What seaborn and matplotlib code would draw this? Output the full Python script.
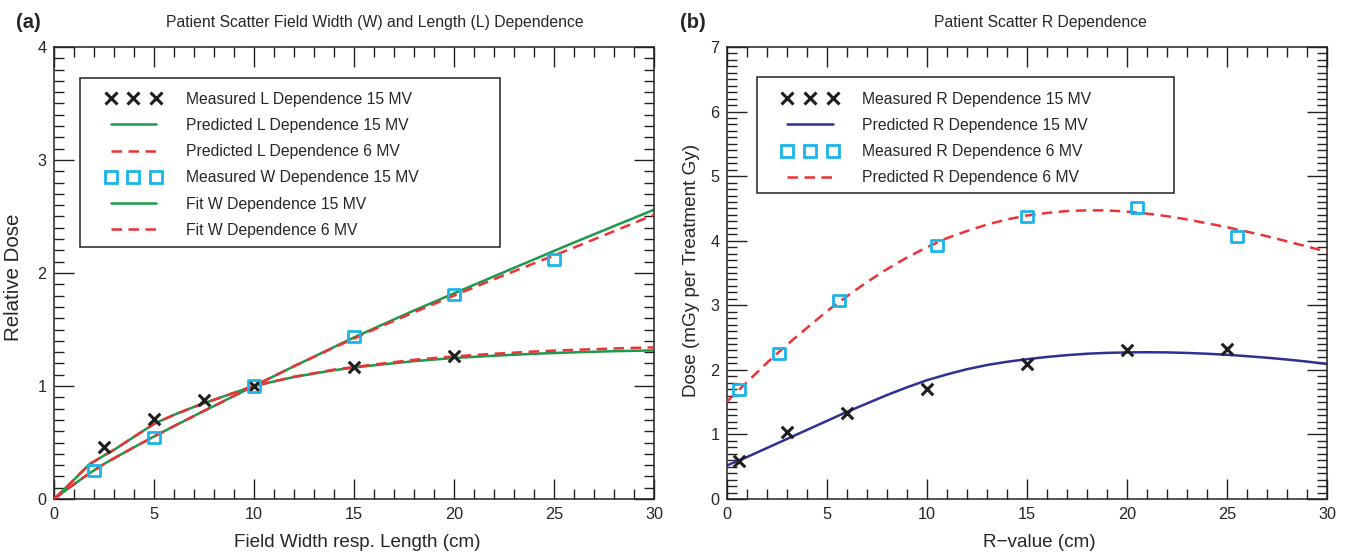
import matplotlib
matplotlib.use("Agg")
import matplotlib.pyplot as plt
from matplotlib.lines import Line2D
from matplotlib.legend_handler import HandlerLine2D
from matplotlib.patches import Rectangle
from matplotlib.ticker import MultipleLocator
import seaborn as sns

# ---------------- panel (a): field width / length dependence ----------------
L_meas_x = [2.5, 5, 7.5, 10, 15, 20]
L_meas_15 = [0.46, 0.71, 0.875, 1.0, 1.17, 1.265]

W_meas_x = [2, 5, 10, 15, 20, 25]
W_meas_15 = [0.25, 0.545, 1.0, 1.44, 1.81, 2.12]

a_curve_x = [0, 1, 1.75, 2.5, 3, 4, 5, 6, 7, 7.5, 8, 9, 10,
             12, 14, 15, 16, 18, 20, 22, 24, 25, 26, 28, 30]
L_pred_15 = [0, 0.17, 0.305, 0.385, 0.435, 0.55, 0.665, 0.745, 0.815, 0.848, 0.878, 0.94, 1.0,
             1.08, 1.14, 1.163, 1.183, 1.22, 1.248, 1.268, 1.285, 1.292, 1.298, 1.308, 1.315]
L_pred_6 = [0, 0.17, 0.305, 0.385, 0.435, 0.55, 0.665, 0.745, 0.815, 0.848, 0.878, 0.94, 1.0,
            1.082, 1.145, 1.168, 1.19, 1.232, 1.262, 1.285, 1.305, 1.313, 1.32, 1.332, 1.342]
W_fit_15 = [0, 0.13, 0.225, 0.31, 0.36, 0.458, 0.553, 0.645, 0.735, 0.78, 0.823, 0.912, 1.0,
            1.175, 1.345, 1.43, 1.51, 1.668, 1.82, 1.97, 2.12, 2.195, 2.27, 2.415, 2.56]
W_fit_6 = [0, 0.13, 0.225, 0.31, 0.36, 0.458, 0.553, 0.645, 0.735, 0.78, 0.823, 0.912, 1.0,
           1.175, 1.34, 1.42, 1.5, 1.652, 1.80, 1.945, 2.085, 2.155, 2.225, 2.37, 2.515]

# ---------------- panel (b): R dependence ----------------
R_meas_x_15 = [0.6, 3, 6, 10, 15, 20, 25]
R_meas_15 = [0.59, 1.03, 1.33, 1.71, 2.09, 2.30, 2.32]
R_meas_x_6 = [0.6, 2.6, 5.6, 10.5, 15, 20.5, 25.5]
R_meas_6 = [1.69, 2.26, 3.07, 3.92, 4.38, 4.52, 4.07]

b_curve_x = list(range(0, 31))
R_pred_15 = [0.52, 0.65, 0.79, 0.93, 1.07, 1.21, 1.35, 1.48, 1.61, 1.73, 1.84,
             1.93, 2.01, 2.075, 2.125, 2.165, 2.20, 2.228, 2.25, 2.263, 2.27,
             2.273, 2.27, 2.262, 2.25, 2.233, 2.212, 2.188, 2.16, 2.128, 2.092]
R_pred_6 = [1.51, 1.81, 2.11, 2.39, 2.65, 2.91, 3.14, 3.36, 3.56, 3.74, 3.90,
            4.04, 4.15, 4.25, 4.33, 4.39, 4.43, 4.46, 4.47, 4.47, 4.45,
            4.42, 4.38, 4.33, 4.27, 4.21, 4.14, 4.07, 3.99, 3.91, 3.83]

GREEN = "#1a9a4a"
RED = "#ec3237"
CYAN = "#1cb4e8"
BLACK = "#1e1e1e"
NAVY = "#2e3192"

sns.set_style("white")
plt.rcParams["font.family"] = ["Liberation Sans", "DejaVu Sans"]
plt.rcParams["axes.edgecolor"] = "#222222"

LW = 1.8
DASH = (0, (4.2, 2.6))
X_MS, X_MEW = 8.3, 2.2
S_MS, S_MEW = 8.0, 2.0
FS_TICK, FS_XLAB, FS_LEG, FS_TITLE = 11.7, 13.6, 11.3, 11.3

fig = plt.figure(figsize=(13.47, 5.53), dpi=100)
W, H = 1347, 553
ax_a = fig.add_axes([54 / W, 54 / H, 600 / W, 452 / H])
ax_b = fig.add_axes([727 / W, 54 / H, 600 / W, 452 / H])


def style_axes(ax, ymax, ylab, xlab, xlab_x, ylab_pos, ylab_fs):
    ax.set_xlim(0, 30)
    ax.set_ylim(0, ymax)
    ax.xaxis.set_major_locator(MultipleLocator(5))
    ax.xaxis.set_minor_locator(MultipleLocator(1))
    ax.yaxis.set_major_locator(MultipleLocator(1))
    ax.yaxis.set_minor_locator(MultipleLocator(0.1))
    ax.tick_params(which="both", direction="in", top=True, right=True,
                   bottom=True, left=True, color="#222222", width=1.0)
    ax.tick_params(which="major", length=14.5, labelsize=FS_TICK, pad=5.5)
    ax.tick_params(which="minor", length=7.2)
    for sp in ax.spines.values():
        sp.set_linewidth(1.1)
        sp.set_color("#222222")
    ax.set_xlabel(xlab, fontsize=FS_XLAB)
    ax.set_ylabel(ylab, fontsize=ylab_fs)
    ax.xaxis.set_label_coords(xlab_x, -0.097)
    ax.xaxis.label.set_va("center")
    ax.yaxis.set_label_coords(*ylab_pos)
    ax.yaxis.label.set_va("center")


def add_legend(ax, handles, labels, handle_x, box):
    x0, y0, x1, y1 = box
    ax.add_patch(Rectangle((x0, y0), x1 - x0, y1 - y0, transform=ax.transAxes,
                           fill=True, facecolor="white", edgecolor="#222222",
                           linewidth=1.1, zorder=5))
    leg = ax.legend(handles, labels, loc="upper left",
                    bbox_to_anchor=(handle_x, 0.901), borderaxespad=0,
                    borderpad=0, frameon=False, fontsize=FS_LEG,
                    handlelength=2.93, handletextpad=1.85, labelspacing=0.715,
                    numpoints=3,
                    handler_map={Line2D: HandlerLine2D(marker_pad=0)})
    leg.set_zorder(6)
    return leg


# ---- panel (a) ----
sns.lineplot(x=a_curve_x, y=L_pred_15, color=GREEN, lw=LW, ax=ax_a, zorder=2)
sns.lineplot(x=a_curve_x, y=W_fit_15, color=GREEN, lw=LW, ax=ax_a, zorder=2)
sns.lineplot(x=a_curve_x, y=L_pred_6, color=RED, lw=LW, ls=DASH, ax=ax_a, zorder=3)
sns.lineplot(x=a_curve_x, y=W_fit_6, color=RED, lw=LW, ls=DASH, ax=ax_a, zorder=3)
sns.scatterplot(x=L_meas_x, y=L_meas_15, marker="x", s=X_MS ** 2, color=BLACK,
                linewidth=X_MEW, ax=ax_a, zorder=4)
sns.scatterplot(x=W_meas_x, y=W_meas_15, marker="s", s=S_MS ** 2, color=CYAN,
                linewidth=S_MEW, ax=ax_a, zorder=4)
sq = ax_a.collections[-1]
sq.set_facecolor("none")
sq.set_edgecolor(CYAN)

style_axes(ax_a, 4, "Relative Dose", "Field Width resp. Length (cm)",
           0.505, (-0.068, 0.49), 14.8)

h_a = [
    Line2D([], [], ls="none", marker="x", ms=X_MS, mew=X_MEW, color=BLACK),
    Line2D([], [], color=GREEN, lw=LW),
    Line2D([], [], color=RED, lw=LW, ls=DASH),
    Line2D([], [], ls="none", marker="s", ms=S_MS, mew=S_MEW, mec=CYAN, mfc="none"),
    Line2D([], [], color=GREEN, lw=LW),
    Line2D([], [], color=RED, lw=LW, ls=DASH),
]
l_a = ["Measured L Dependence 15 MV", "Predicted L Dependence 15 MV",
       "Predicted L Dependence 6 MV", "Measured W Dependence 15 MV",
       "Fit W Dependence 15 MV", "Fit W Dependence 6 MV"]
add_legend(ax_a, h_a, l_a, (110.5 - 54) / 600,
           ((80 - 54) / 600, (499 - 247) / 452, (500 - 54) / 600, (499 - 78) / 452))

ax_a.text((374.5 - 54) / 600, (499 - 23) / 452,
          "Patient Scatter Field Width (W) and Length (L) Dependence",
          transform=ax_a.transAxes, ha="center", va="center", fontsize=FS_TITLE)
fig.text(16 / W, 1 - 22 / H, "(a)", ha="left", va="center",
         fontsize=14.5, fontweight="bold")

# ---- panel (b) ----
sns.lineplot(x=b_curve_x, y=R_pred_15, color=NAVY, lw=LW, ax=ax_b, zorder=2)
sns.lineplot(x=b_curve_x, y=R_pred_6, color=RED, lw=LW, ls=DASH, ax=ax_b, zorder=3)
sns.scatterplot(x=R_meas_x_15, y=R_meas_15, marker="x", s=X_MS ** 2, color=BLACK,
                linewidth=X_MEW, ax=ax_b, zorder=4)
sns.scatterplot(x=R_meas_x_6, y=R_meas_6, marker="s", s=S_MS ** 2, color=CYAN,
                linewidth=S_MEW, ax=ax_b, zorder=4)
sq = ax_b.collections[-1]
sq.set_facecolor("none")
sq.set_edgecolor(CYAN)

style_axes(ax_b, 7, "Dose (mGy per Treatment Gy)", "R\u2212value (cm)",
           0.52, (-0.06, 0.505), 13.6)

h_b = [
    Line2D([], [], ls="none", marker="x", ms=X_MS, mew=X_MEW, color=BLACK),
    Line2D([], [], color=NAVY, lw=LW),
    Line2D([], [], ls="none", marker="s", ms=S_MS, mew=S_MEW, mec=CYAN, mfc="none"),
    Line2D([], [], color=RED, lw=LW, ls=DASH),
]
l_b = ["Measured R Dependence 15 MV", "Predicted R Dependence 15 MV",
       "Measured R Dependence 6 MV", "Predicted R Dependence 6 MV"]
add_legend(ax_b, h_b, l_b, (787 - 727) / 600,
           ((757 - 727) / 600, (499 - 192.7) / 452, (1173.5 - 727) / 600, (499 - 77) / 452))

ax_b.text((1040 - 727) / 600, (499 - 22) / 452, "Patient Scatter R Dependence",
          transform=ax_b.transAxes, ha="center", va="center", fontsize=FS_TITLE)
fig.text(680 / W, 1 - 22 / H, "(b)", ha="left", va="center",
         fontsize=14.5, fontweight="bold")

fig.savefig("out.png", dpi=100)
